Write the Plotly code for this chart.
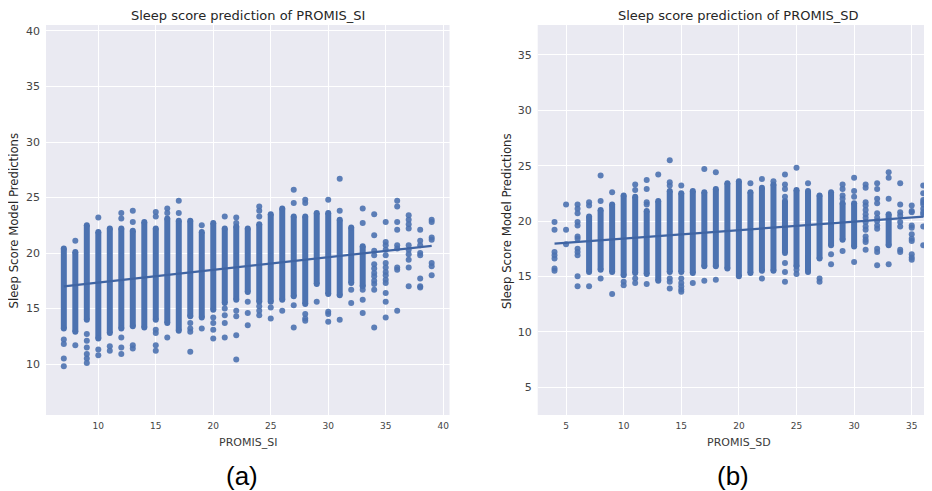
import plotly.graph_objects as go

# ---------------- Data ----------------
# Panel (a): PROMIS_SI
si_cols = list(range(7, 40))
si_core_lo = [13.2, 12.9, 14.0, 12.3, 12.8, 13.2, 13.4, 13.3, 14.0, 13.7, 13.0, 14.3, 14.2, 14.9,
              15.5, 15.8, 16.5, 15.6, 15.6, 15.8, 16.1, 15.4, 17.2, 16.3, 16.2, 17.3, 17.0,
              None, None, None, None, None, None]
si_core_hi = [20.4, 20.1, 22.5, 21.9, 22.2, 22.2, 22.0, 22.8, 22.2, 23.1, 22.9, 22.9, 21.9, 22.7,
              22.2, 22.4, 22.2, 22.6, 23.5, 24.0, 23.3, 23.3, 23.6, 23.6, 23.0, 22.3, 20.6,
              None, None, None, None, None, None]
si_pts_x = ([7] * 4 + [8] * 2 + [9] * 6 + [10] * 3 + [11] * 2 + [12] * 5 + [13] * 4 + [15] * 6
            + [16] * 3 + [17] * 2 + [18] * 4 + [19] * 2 + [20] * 4 + [21] * 5 + [22] * 6 + [23] * 3
            + [24] * 6 + [25] * 2 + [26] * 1 + [27] * 4 + [28] * 5 + [29] * 1 + [30] * 4 + [31] * 3
            + [32] * 2 + [33] * 5 + [34] * 12 + [35] * 14 + [36] * 9 + [37] * 10 + [38] * 8 + [39] * 7)
si_pts_y = [12.2, 11.8, 10.5, 9.8,
            21.1, 11.7,
            12.7, 12.1, 11.5, 10.9, 10.5, 10.1,
            23.2, 11.3, 10.8,
            11.6, 11.2,
            23.6, 23.1, 12.4, 11.5, 10.9,
            23.8, 22.8, 11.7, 11.4,
            23.7, 23.3, 13.1, 12.8, 11.7, 11.2,
            24.0, 23.6, 12.4,
            24.7, 23.6,
            13.7, 13.2, 12.9, 11.1,
            22.5, 13.2,
            14.2, 13.7, 13.1, 12.3,
            23.3, 15.0, 14.4, 13.7, 12.4,
            23.2, 22.7, 14.8, 14.3, 12.6, 10.4,
            15.6, 14.6, 13.5,
            24.2, 23.8, 23.3, 15.2, 14.8, 14.4,
            15.1, 14.1,
            14.8,
            25.7, 24.5, 15.3, 13.3,
            24.8, 24.5, 14.5, 14.1, 13.9,
            15.6,
            24.8, 14.7, 14.5, 13.8,
            26.7, 23.8, 14.0,
            16.7, 15.5,
            24.0, 22.7, 16.7, 15.8, 14.6,
            23.5, 21.6, 20.2, 19.8, 19.0, 18.6, 18.2, 17.9, 17.5, 17.2, 16.7, 13.3,
            22.8, 21.0, 20.7, 20.3, 19.8, 19.1, 18.7, 18.3, 18.0, 17.6, 17.3, 16.4, 15.6, 14.2,
            24.7, 24.2, 22.8, 22.1, 20.7, 20.4, 18.7, 18.5, 14.8,
            23.4, 23.0, 22.6, 22.2, 20.7, 20.3, 19.9, 19.4, 18.7, 17.0,
            22.1, 21.1, 20.7, 20.0, 19.8, 17.7, 17.0, 16.9,
            23.0, 22.8, 21.4, 21.2, 19.1, 18.8, 18.0]
si_fit_x = [7, 39]
si_fit_y = [17.0, 20.65]

# Panel (b): PROMIS_SD
sd_cols = list(range(4, 37))
sd_core_lo = [None, None, None, 15.4, 15.6, 15.4, 15.1, 15.3, 15.2, 14.6, 15.4, 15.4, 15.3, 15.9,
              15.9, 15.7, 15.0, 15.3, 15.5, 15.5, 17.1, 15.9, 15.4, 16.6, 17.8, 18.3, 17.7,
              None, None, 17.8, None, None, None]
sd_core_hi = [None, None, None, 20.4, 21.0, 21.5, 22.3, 22.2, 20.9, 21.8, 22.7, 22.5, 22.7, 22.6,
              22.9, 23.4, 23.6, 22.6, 23.0, 23.3, 21.8, 22.8, 22.7, 22.3, 22.6, 21.6, 21.6,
              None, None, 20.6, None, None, None]
sd_pts_x = ([4] * 7 + [5] * 3 + [6] * 12 + [7] * 3 + [8] * 3 + [9] * 2 + [10] * 2 + [11] * 4
            + [12] * 5 + [13] * 1 + [14] * 6 + [15] * 6 + [16] * 1 + [17] * 2 + [18] * 2 + [21] * 1
            + [22] * 2 + [23] * 1 + [24] * 7 + [25] * 3 + [26] * 1 + [27] * 2 + [28] * 2 + [29] * 5
            + [30] * 4 + [31] * 14 + [32] * 12 + [33] * 4 + [34] * 8 + [35] * 11 + [36] * 10)
sd_pts_y = [19.9, 19.2, 17.2, 16.9, 16.6, 15.7, 15.5,
            21.5, 19.2, 17.9,
            21.5, 21.1, 20.7, 19.9, 19.6, 18.6, 18.4, 17.5, 17.2, 16.9, 15.0, 14.1,
            21.7, 21.4, 14.1,
            24.1, 21.8, 14.8,
            22.6, 13.4,
            14.5, 14.2,
            23.3, 22.8, 14.8, 14.4,
            23.7, 22.9, 21.7, 21.5, 14.3,
            24.2,
            25.5, 23.5, 23.2, 14.8, 14.5, 13.9,
            23.2, 14.8, 14.4, 14.1, 13.8, 13.6,
            14.4,
            24.7, 14.6,
            24.4, 14.7,
            23.4,
            23.8, 14.8,
            23.6,
            24.2, 23.3, 22.9, 22.2, 16.2, 15.4, 14.5,
            24.8, 15.6, 15.2,
            23.4,
            14.8, 14.5,
            17.0, 16.1,
            23.3, 22.9, 22.3, 22.0, 17.3,
            23.9, 22.7, 22.2, 16.3,
            23.3, 23.0, 21.7, 21.4, 21.0, 20.6, 20.3, 19.9, 19.5, 19.2, 18.6, 18.3, 18.1, 17.4,
            23.4, 22.9, 22.0, 21.6, 20.7, 20.3, 20.0, 19.6, 19.3, 17.5, 17.2, 16.0,
            24.4, 23.9, 22.0, 16.1,
            23.4, 21.5, 20.8, 20.5, 19.9, 19.5, 17.4, 17.2,
            21.4, 20.9, 20.8, 19.6, 19.4, 18.8, 18.4, 18.2, 17.0, 16.7, 16.5,
            23.2, 22.5, 21.9, 21.7, 21.5, 21.1, 20.8, 20.6, 19.5, 17.8]
sd_fit_x = [4, 36]
sd_fit_y = [17.95, 20.4]

si_xticks = [10, 15, 20, 25, 30, 35, 40]
si_yticks = [10, 15, 20, 25, 30, 35, 40]
sd_xticks = [5, 10, 15, 20, 25, 30, 35]
sd_yticks = [5, 10, 15, 20, 25, 30, 35]

# ---------------- Figure ----------------
# the page body has an 8px margin, so the figure is 8px smaller on each axis
OFF = 8
W, H = 932 - OFF, 491 - OFF
BLUE = "#4C72B0"
MS = 6


def fx_(px):
    return (px - OFF) / W


def fy_(py):
    return 1 - (py - OFF) / H


fig = go.Figure()


def add_panel(cols, lo, hi, px_, py_, fx, fy, xa, ya):
    sx, sy = [], []
    for c, a, b in zip(cols, lo, hi):
        if a is None:
            continue
        sx += [c, c, None]
        sy += [a, b, None]
    fig.add_trace(go.Scatter(x=sx, y=sy, mode="lines+markers", xaxis=xa, yaxis=ya,
                             line=dict(color=BLUE, width=MS), marker=dict(color=BLUE, size=MS),
                             connectgaps=False, hoverinfo="skip", showlegend=False))
    fig.add_trace(go.Scatter(x=px_, y=py_, mode="markers", xaxis=xa, yaxis=ya,
                             marker=dict(color=BLUE, size=MS, opacity=0.9, line=dict(width=0)),
                             showlegend=False))
    fig.add_trace(go.Scatter(x=fx, y=fy, mode="lines", xaxis=xa, yaxis=ya,
                             line=dict(color="#3F64A3", width=2.2), showlegend=False))


add_panel(si_cols, si_core_lo, si_core_hi, si_pts_x, si_pts_y, si_fit_x, si_fit_y, "x", "y")
add_panel(sd_cols, sd_core_lo, sd_core_hi, sd_pts_x, sd_pts_y, sd_fit_x, sd_fit_y, "x2", "y2")

xtickfont = dict(family="DejaVu Sans", size=9, color="#444444")
ytickfont = dict(family="DejaVu Sans", size=11, color="#444444")
axcommon = dict(showgrid=True, gridcolor="white", gridwidth=1, zeroline=False, showline=False,
                ticks="")

ytop, ybot = 25, 415
fig.update_layout(
    width=W, height=H,
    margin=dict(l=0, r=0, t=0, b=0),
    paper_bgcolor="white",
    plot_bgcolor="#EAEAF2",
    showlegend=False,
    xaxis=dict(domain=[fx_(46), fx_(449.5)], range=[5.45, 40.55], tickvals=si_xticks,
               anchor="y", tickfont=xtickfont, ticklabelstandoff=4, **axcommon),
    yaxis=dict(domain=[fy_(ybot), fy_(ytop)], range=[5.41, 40.54], tickvals=si_yticks,
               anchor="x", tickfont=ytickfont, ticklabelstandoff=5, **axcommon),
    xaxis2=dict(domain=[fx_(537.7), 1.0], range=[2.54, 36.76], tickvals=sd_xticks,
                anchor="y2", tickfont=xtickfont, ticklabelstandoff=4, **axcommon),
    yaxis2=dict(domain=[fy_(ybot), fy_(ytop)], range=[2.47, 37.71], tickvals=sd_yticks,
                anchor="x2", tickfont=ytickfont, ticklabelstandoff=5, **axcommon),
)

txt = "#262626"
ann = [
    dict(x=fx_(247.5), y=fy_(16), text="Sleep score prediction of PROMIS_SI",
         font=dict(family="DejaVu Sans", size=13, color=txt)),
    dict(x=fx_(738.5), y=fy_(16), text="Sleep score prediction of PROMIS_SD",
         font=dict(family="DejaVu Sans", size=13, color=txt)),
    dict(x=fx_(13.5), y=fy_(221), text="Sleep Score Model Predictions", textangle=-90,
         font=dict(family="DejaVu Sans", size=11.7, color=txt)),
    dict(x=fx_(507), y=fy_(221), text="Sleep Score Model Predictions", textangle=-90,
         font=dict(family="DejaVu Sans", size=11.7, color=txt)),
    dict(x=fx_(247.5), y=fy_(442), text="PROMIS_SI",
         font=dict(family="DejaVu Sans", size=11, color="#3a3a3a")),
    dict(x=fx_(738.5), y=fy_(442), text="PROMIS_SD",
         font=dict(family="DejaVu Sans", size=11, color="#3a3a3a")),
    dict(x=fx_(241.5), y=fy_(476), text="(a)",
         font=dict(family="Liberation Sans", size=26, color="black")),
    dict(x=fx_(732.5), y=fy_(476), text="(b)",
         font=dict(family="Liberation Sans", size=26, color="black")),
]
for a in ann:
    a.update(xref="paper", yref="paper", showarrow=False, xanchor="center", yanchor="middle")
fig.update_layout(annotations=ann)

fig.write_html("out.html")
